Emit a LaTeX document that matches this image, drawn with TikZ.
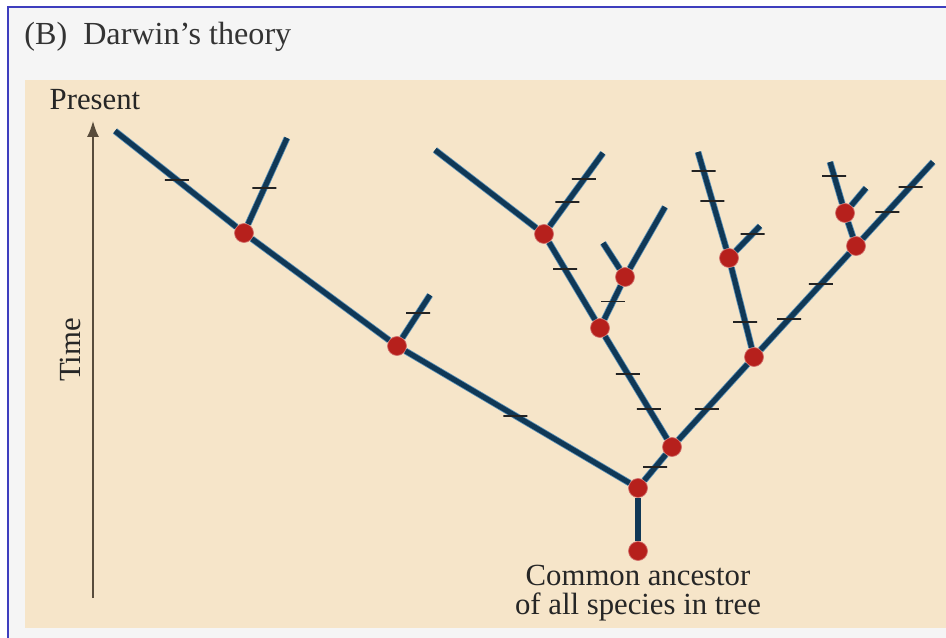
\documentclass[tikz,border=0pt]{standalone}
\usepackage{fontspec}
\setmainfont{Liberation Serif}
\usetikzlibrary{arrows.meta,positioning}
\definecolor{panelbeige}{RGB}{246,229,201}
\definecolor{framegray}{RGB}{245,245,245}
\definecolor{frameblue}{RGB}{62,62,190}
\definecolor{branchnavy}{RGB}{16,56,86}
\definecolor{branchhalo}{RGB}{86,142,182}
\definecolor{nodered}{RGB}{182,32,28}
\definecolor{tickgray}{RGB}{35,35,35}
\definecolor{axisbrown}{RGB}{88,76,60}

\begin{document}
\begin{tikzpicture}[
  x=0.02cm, y=-0.02cm,
  split/.style={circle, fill=nodered, draw=nodered!65!white, line width=0.4pt, minimum size=0.38cm, inner sep=0pt},
  branch/.style={draw=branchhalo, line width=0.45pt, double=branchnavy, double distance=2.9pt},
  tick/.style={draw=tickgray, line width=1.1pt, inner sep=0pt, minimum width=0.48cm, minimum height=0pt},
  lbl/.style={font=\fontsize{17.5}{16.5}\selectfont, inner sep=0pt, text=black!85},
  axis/.style={draw=axisbrown, line width=0.9pt, -{Latex[length=3.2mm,width=2.4mm]}}
]
\useasboundingbox (0,0) rectangle (946,638);
\fill[white] (0,0) rectangle (946,638);
\fill[framegray] (8,7) rectangle (946,638);
\draw[frameblue, line width=1.2pt] (8,638) |- (946,7);
\fill[panelbeige] (25,80) rectangle (946,628);

\node[anchor=base west, inner sep=0pt, text=black!80, font=\fontsize{18.3}{20}\selectfont] (title) at (24,45) {(B)\hspace{0.5em}Darwin’s theory};
\node[lbl, anchor=base] (present) at (95,110) {Present};
\node[lbl, rotate=90] (time) at (70,350) {Time};
\coordinate (axisbot) at (93,598);
\coordinate (axistop) at (93,121);
\draw[axis] (axisbot) -- (axistop);

\node[split] (root) at (638,551) {};
\node[split] (A) at (638,488) {};
\node[split] (B) at (397,346) {};
\node[split] (C) at (244,233) {};
\node[split] (D) at (672,447) {};
\node[split] (E) at (600,328) {};
\node[split] (F) at (754,357) {};
\node[split] (G) at (544,234) {};
\node[split] (H) at (625,277) {};
\node[split] (I) at (729,258) {};
\node[split] (J) at (856,246) {};
\node[split] (K) at (845,213) {};
\node[lbl, align=center, below=0.7mm of root] (ancestor) {Common ancestor\\of all species in tree};

\coordinate (t1) at (115,131);
\coordinate (t2) at (287,138);
\coordinate (t3) at (430,295);
\coordinate (t4) at (435,150);
\coordinate (t5) at (603,153);
\coordinate (t6) at (603,243);
\coordinate (t7) at (665,207);
\coordinate (t8) at (698,152);
\coordinate (t9) at (760,226);
\coordinate (t10) at (933,162);
\coordinate (t11) at (830,162);
\coordinate (t12) at (866,188);

\foreach \a/\b in {root/A, A/B, B/C, C/t1, C/t2, B/t3, A/D, D/E, D/F, E/G, G/t4, G/t5,
  E/H, H/t6, H/t7, F/I, I/t8, I/t9, F/J, J/t10, J/K, K/t11, K/t12}
  \draw[branch] (\a) -- (\b);

\foreach \a/\b/\p in {C/t1/.49, C/t2/.42, B/t3/.57, A/B/.51, A/D/.51, D/E/.29, D/E/.63,
  D/F/.41, F/J/.32, F/J/.68, J/t10/.35, J/t10/.68, F/I/.32, I/t8/.49, I/t8/.80,
  I/t9/.69, K/t11/.67, E/G/.65, G/t5/.33, G/t5/.64, E/H/.53}
  \path (\a) -- (\b) node[tick, pos=\p] {};
\end{tikzpicture}
\end{document}
